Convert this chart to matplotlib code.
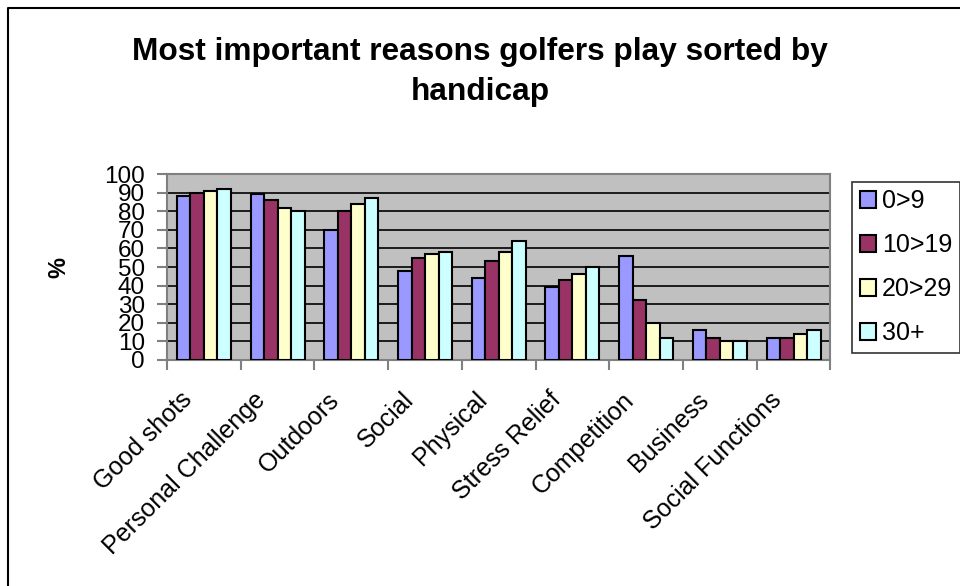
import matplotlib
matplotlib.use("Agg")
from matplotlib import pyplot as plt
from matplotlib.lines import Line2D
from matplotlib.transforms import ScaledTranslation
import numpy as np

plt.rcParams['font.family'] = ['Liberation Sans', 'DejaVu Sans']

reasons = ["Good shots", "Personal Challenge", "Outdoors", "Social", "Physical",
           "Stress Relief", "Competition", "Business", "Social Functions"]
groups = ["0>9", "10>19", "20>29", "30+"]

hcp_0_9 = [88, 89, 70, 48, 44, 39, 56, 16, 12]
hcp_10_19 = [90, 86, 80, 55, 53, 43, 32, 12, 12]
hcp_20_29 = [91, 82, 84, 57, 58, 46, 20, 10, 14]
hcp_30 = [92, 80, 87, 58, 64, 50, 12, 10, 16]

colors = ["#9999FF", "#993366", "#FFFFCC", "#CCFFFF"]

fig = plt.figure(figsize=(9.6, 5.86), dpi=100)
ax = fig.add_axes([0.174, 0.3857, 0.691, 0.3173])
ax.set_facecolor("#C0C0C0")

x = np.arange(len(reasons))
w = 0.183
series = [hcp_0_9, hcp_10_19, hcp_20_29, hcp_30]
for i, vals in enumerate(series):
    ax.bar(x + (i - 1.5) * w, vals, w, color=colors[i], edgecolor="black",
           linewidth=1.5, label=groups[i], zorder=3)

ax.set_xlim(-0.5, len(reasons) - 0.5)
ax.set_ylim(0, 100)
ax.set_yticks(range(0, 101, 10))
ax.yaxis.grid(True, color="black", linewidth=1.2, zorder=1)
ax.set_axisbelow(True)

# category labels at centres, tick marks at the boundaries
ax.set_xticks(np.arange(-0.5, len(reasons), 1.0))
ax.set_xticklabels([])
ax.set_xticks(x, minor=True)
ax.set_xticklabels(reasons, minor=True, rotation=45, ha="right",
                   rotation_mode="anchor", fontsize=18)
ax.tick_params(axis="x", which="minor", length=0, pad=20)
ax.tick_params(axis="x", which="major", length=7, width=1.5, color="#808080")
ax.tick_params(axis="y", length=7, width=1.5, color="#808080", labelsize=17.5, pad=9)

shift = ScaledTranslation(-24 / 100, 0, fig.dpi_scale_trans)
for lbl in ax.get_xticklabels(minor=True):
    lbl.set_transform(lbl.get_transform() + shift)

for s in ax.spines.values():
    s.set_color("#808080")
    s.set_linewidth(1.5)

ax.set_ylabel("%", fontsize=17, fontweight="bold", labelpad=24)

fig.suptitle("Most important reasons golfers play sorted by\nhandicap",
             x=0.5, y=1 - 37 / 586, va="top", fontsize=22.8, fontweight="bold",
             linespacing=1.45)

leg = fig.legend(loc="upper left", bbox_to_anchor=(852 / 960, 1 - 182 / 586),
                 fontsize=18, frameon=True, fancybox=False, edgecolor="black",
                 handlelength=0.65, handleheight=0.65, handletextpad=0.25,
                 labelspacing=0.8, borderpad=0.3, borderaxespad=0)
leg.get_frame().set_linewidth(1.2)

# outer chart border
fig.add_artist(Line2D([8 / 960, 8 / 960, 1.0], [0.0, 1 - 8 / 586, 1 - 8 / 586],
                      color="black", linewidth=1.5, transform=fig.transFigure))

fig.savefig("out.png", dpi=100)
